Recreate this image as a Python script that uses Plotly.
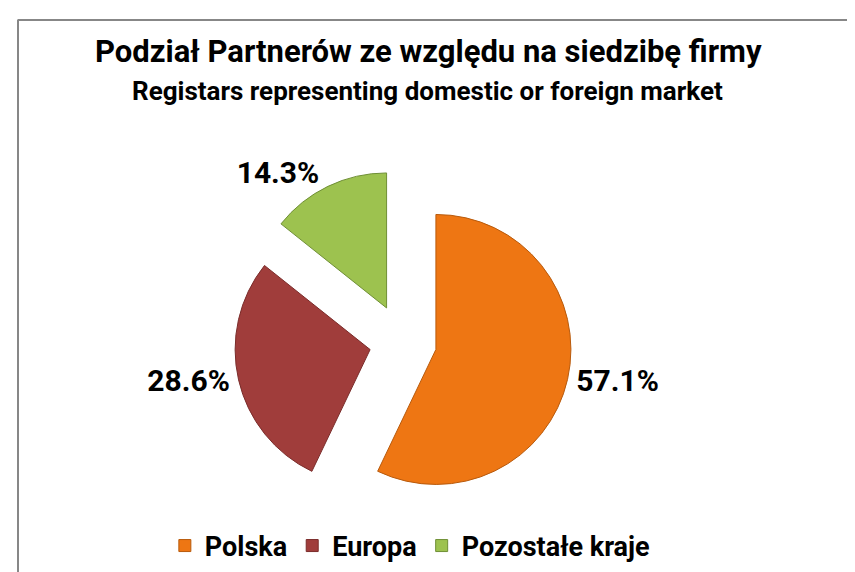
import plotly.graph_objects as go

labels = ["Polska", "Europa", "Pozostałe kraje"]
values = [57.1, 28.6, 14.3]
colors = ["#EE7613", "#A03D3B", "#9DC24F"]
edge_colors = ["#B85A0C", "#7A2C2A", "#6F8F35"]
pulls = [0.25, 0.25, 0.28]

title_text = "Podział Partnerów ze względu na siedzibę firmy"
subtitle_text = "Registars representing domestic or foreign market"

W, H = 855, 572
FONT = "Roboto, sans-serif"

fig = go.Figure(
    go.Pie(
        labels=labels,
        values=values,
        sort=False,
        direction="clockwise",
        rotation=0,
        pull=pulls,
        marker=dict(colors=colors, line=dict(color=edge_colors, width=1)),
        textinfo="percent",
        texttemplate="%{percent:.1%}",
        textposition="outside",
        outsidetextfont=dict(family=FONT, size=30, color="#000000", weight="bold"),
        domain=dict(x=[222.2 / W, 567.8 / W], y=[1 - 506.8 / H, 1 - 161.2 / H]),
        showlegend=True,
        hoverinfo="label+percent",
    )
)

fig.update_layout(
    width=W,
    height=H,
    margin=dict(l=0, r=0, t=0, b=0),
    paper_bgcolor="white",
    plot_bgcolor="white",
    showlegend=True,
    legend=dict(
        orientation="h",
        x=0.47,
        xanchor="center",
        y=1 - 538 / H,
        yanchor="middle",
        font=dict(family=FONT, size=27, color="#000000", weight="bold"),
        itemwidth=30,
        traceorder="normal",
    ),
    shapes=[
        dict(type="line", xref="paper", yref="paper", x0=9.5 / W, x1=1, y0=1 - 12 / H, y1=1 - 12 / H,
             line=dict(color="#878787", width=2)),
        dict(type="line", xref="paper", yref="paper", x0=10 / W, x1=10 / W, y0=0, y1=1 - 12 / H,
             line=dict(color="#878787", width=2)),
    ],
    annotations=[
        dict(text=title_text, x=420.5 / W, y=1 - 43 / H, xref="paper", yref="paper",
             xanchor="center", yanchor="middle", showarrow=False,
             font=dict(family=FONT, size=31, color="#000000", weight="bold")),
        dict(text=subtitle_text, x=419.5 / W, y=1 - 83 / H, xref="paper", yref="paper",
             xanchor="center", yanchor="middle", showarrow=False,
             font=dict(family=FONT, size=26, color="#000000", weight="bold")),
    ],
)

fig.write_html("out.html")
